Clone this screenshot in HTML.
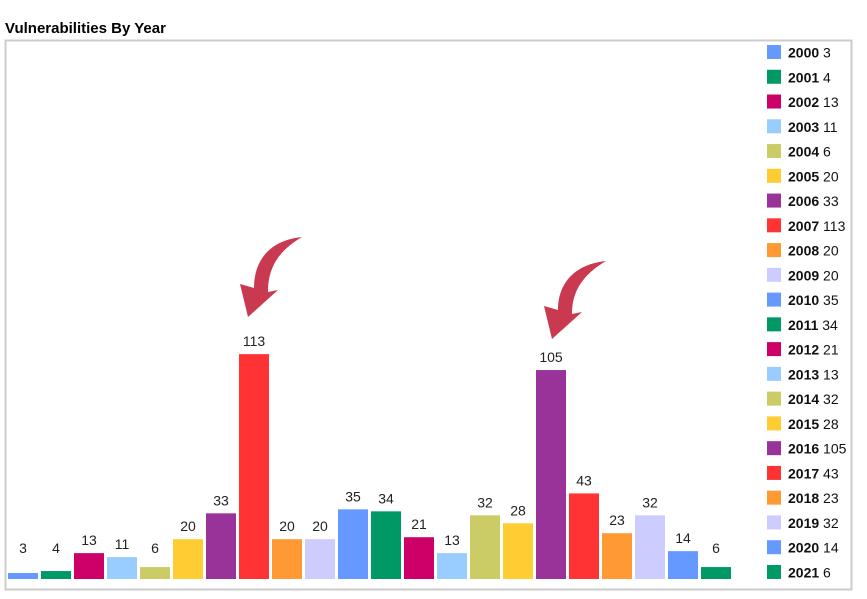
<!DOCTYPE html>
<html><head><meta charset="utf-8"><style>
body{margin:0;background:#fff;font-family:"Liberation Sans",Arial,sans-serif;}
svg{display:block}
</style></head><body>
<svg id="chart" width="867" height="599">
<text x="5" y="33" font-size="15" font-weight="bold" fill="#000">Vulnerabilities By Year</text>
<rect x="5.5" y="40.5" width="846" height="549" fill="none" stroke="#ccc" stroke-width="2"/>
<g id="bars"></g>
<g id="legend"></g>
<g>
<path d="M302,237 C272,240 254,258 254,288 L240,284 L248,317 L278,290 L268,292 C268,266 280,250 302,237 Z" fill="#c93a50"/>
</g>
<g>
<path d="M606,261 C576,264 558,282 558,310 L544,306 L552,339 L582,312 L572,314 C572,290 584,274 606,261 Z" fill="#c93a50"/>
</g>
</svg>
<script>
const years=["2000","2001","2002","2003","2004","2005","2006","2007","2008","2009","2010","2011","2012","2013","2014","2015","2016","2017","2018","2019","2020","2021"];
const counts=[3,4,13,11,6,20,33,113,20,20,35,34,21,13,32,28,105,43,23,32,14,6];
const palette=["#6699ff","#009966","#cc0066","#99ccff","#cccc66","#ffcc33","#993399","#ff3333","#ff9933","#ccccff"];
const NS="http://www.w3.org/2000/svg";
const base=579, scale=1.99, x0=8, pitch=33, bw=30;
const yS=v=>base-v*scale, xS=i=>x0+i*pitch;
const bars=document.getElementById('bars'), legend=document.getElementById('legend');
counts.forEach((v,i)=>{
  const c=palette[i%palette.length];
  const r=document.createElementNS(NS,'rect');
  r.setAttribute('x',xS(i));r.setAttribute('y',yS(v));r.setAttribute('width',bw);r.setAttribute('height',v*scale);r.setAttribute('fill',c);
  
  
  bars.appendChild(r);
  const t=document.createElementNS(NS,'text');
  t.setAttribute('x',xS(i)+bw/2);t.setAttribute('y',Math.min(yS(v),561)-8);t.setAttribute('text-anchor','middle');t.setAttribute('font-size','14');t.setAttribute('fill','#222');
  t.textContent=v;
  
  
  bars.appendChild(t);
  const ly=45+i*24.76;
  const g=document.createElementNS(NS,'g');
  
  
  const s=document.createElementNS(NS,'rect');
  s.setAttribute('x',767);s.setAttribute('y',ly);s.setAttribute('width',14);s.setAttribute('height',14);s.setAttribute('fill',c);
  g.appendChild(s);
  const lt=document.createElementNS(NS,'text');
  lt.setAttribute('x',788);lt.setAttribute('y',ly+12.5);lt.setAttribute('font-size','14');lt.setAttribute('fill','#111');
  lt.innerHTML='<tspan font-weight="bold">'+years[i]+'</tspan> '+v;
  g.appendChild(lt);
  legend.appendChild(g);
});
</script>
</body></html>
